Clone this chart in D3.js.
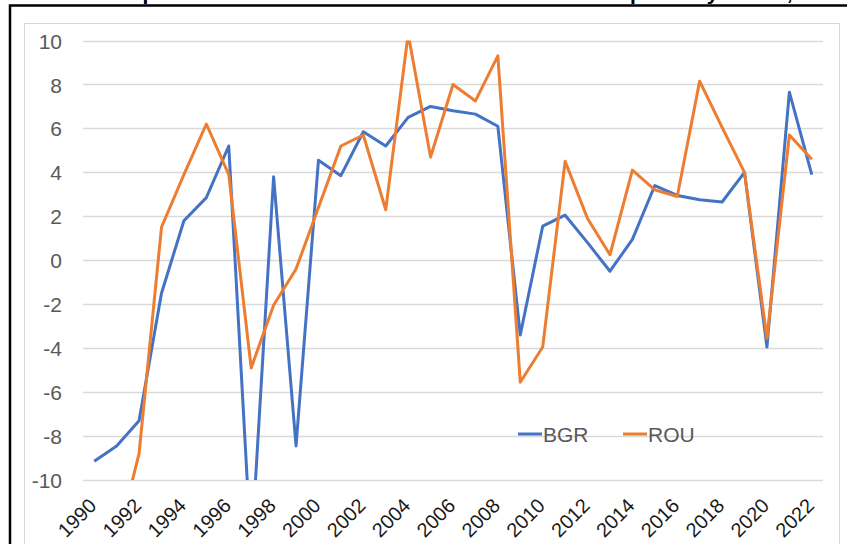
<!DOCTYPE html>
<html>
<head>
<meta charset="utf-8">
<script src="https://cdn.jsdelivr.net/npm/d3@7"></script>
<style>
	body { margin: 0; background: #fff; }
	svg { display: block; font-family: "Liberation Sans", Arial, sans-serif; }
</style>
</head>
<body>
<svg id="chart" width="847" height="544"></svg>
<script>
// data
var years = d3.range(1990, 2023);
var bgr = [-9.15, -8.45, -7.3, -1.5, 1.8, 2.85, 5.2, -13.3, 3.8, -8.45, 4.55, 3.85, 5.85, 5.2, 6.5, 7.0, 6.8, 6.65, 6.1,
	-3.4, 1.55, 2.05, 0.8, -0.5, 0.95, 3.4, 2.95, 2.75, 2.65, 4.0, -3.95, 7.65, 3.9];
var rou = [null, -12.9, -8.8, 1.5, 3.9, 6.2, 3.9, -4.9, -2.05, -0.4, 2.4, 5.2, 5.7, 2.3, 10.3, 4.7, 8.0, 7.25, 9.3,
	-5.55, -3.95, 4.5, 1.9, 0.25, 4.1, 3.2, 2.9, 8.15, 6.05, 4.0, -3.55, 5.7, 4.6];
var series = [
	{ name: 'BGR', values: bgr, color: '#4472C4' },
	{ name: 'ROU', values: rou, color: '#ED7D31' }
];
var yTicks = d3.range(-10, 11, 2);
var xLabels = years.filter(function (d) { return d % 2 == 0; });

var svg = d3.select('#chart');
var font = '"Liberation Sans", Arial, sans-serif';

// title, mostly cut off by the top of the picture
svg.append('text')
	.attr('x', 425)
	.attr('y', 0)
	.attr('text-anchor', 'middle')
	.style('font-weight', 'bold')
	.style('font-size', '21px')
	.style('fill', '#000')
	.text('Растеж на реалния БВП на глава от населението в България и Румъния, %');

// black frame
svg.append('rect')
	.attr('x', 10)
	.attr('y', 5.5)
	.attr('width', 900)
	.attr('height', 600)
	.style('fill', '#fff')
	.style('stroke', '#000')
	.style('stroke-width', 2.5);

// chart area
svg.append('rect')
	.attr('x', 24.5)
	.attr('y', 23.5)
	.attr('width', 815)
	.attr('height', 600)
	.style('fill', '#fff')
	.style('stroke', '#d9d9d9')
	.style('stroke-width', 1);

var x = d3.scalePoint().domain(years).range([83, 823]).padding(0.5);
var y = d3.scaleLinear().domain([-10, 10]).range([480, 40.5]);

// gridlines
svg.append('g')
	.selectAll('line')
	.data(yTicks)
	.enter().append('line')
	.attr('x1', 83)
	.attr('x2', 823)
	.attr('y1', function (d) { return Math.round(y(d)) + 0.5; })
	.attr('y2', function (d) { return Math.round(y(d)) + 0.5; })
	.style('stroke', '#d9d9d9')
	.style('stroke-width', 1.3);

// y axis labels
var yAxis = d3.axisLeft(y).tickValues(yTicks).tickSize(0).tickPadding(0)
	.tickFormat(function (d) { return String(d); });
var gy = svg.append('g')
	.attr('transform', 'translate(62,0)')
	.call(yAxis);
gy.select('.domain').remove();
gy.selectAll('text')
	.attr('dy', '0.36em')
	.style('font-size', '21px')
	.style('font-family', font)
	.style('fill', '#595959');

// x axis labels
var xAxis = d3.axisBottom(x).tickValues(xLabels).tickSize(0).tickPadding(0)
	.tickFormat(function (d) { return String(d); });
var gx = svg.append('g')
	.attr('transform', 'translate(0,480)')
	.call(xAxis);
gx.select('.domain').remove();
gx.selectAll('text')
	.attr('text-anchor', 'end')
	.attr('dy', 0)
	.attr('y', 0)
	.attr('transform', 'translate(3,27) rotate(-45)')
	.style('font-size', '20px')
	.style('font-family', font)
	.style('fill', '#1a1a1a');

// clip lines to the value range like the original
svg.append('clipPath')
	.attr('id', 'plotclip')
	.append('rect')
	.attr('x', 60)
	.attr('y', y(10))
	.attr('width', 790)
	.attr('height', y(-10) - y(10));

var line = d3.line()
	.defined(function (d) { return d != null; })
	.x(function (d, i) { return x(years[i]); })
	.y(function (d) { return y(d); });

svg.append('g')
	.attr('clip-path', 'url(#plotclip)')
	.selectAll('path')
	.data(series)
	.enter().append('path')
	.attr('d', function (d) { return line(d.values); })
	.style('fill', 'none')
	.style('stroke', function (d) { return d.color; })
	.style('stroke-width', 3)
	.style('stroke-linejoin', 'round');

// legend
var legend = svg.append('g')
	.selectAll('g')
	.data(series)
	.enter().append('g')
	.attr('transform', function (d, i) { return 'translate(' + (518 + i * 105) + ',434)'; });
legend.append('line')
	.attr('x1', 0)
	.attr('x2', 24)
	.style('stroke', function (d) { return d.color; })
	.style('stroke-width', 3);
legend.append('text')
	.attr('x', 25)
	.attr('y', 7.5)
	.style('font-size', '21px')
	.style('font-family', font)
	.style('fill', '#595959')
	.text(function (d) { return d.name; });
</script>
</body>
</html>
